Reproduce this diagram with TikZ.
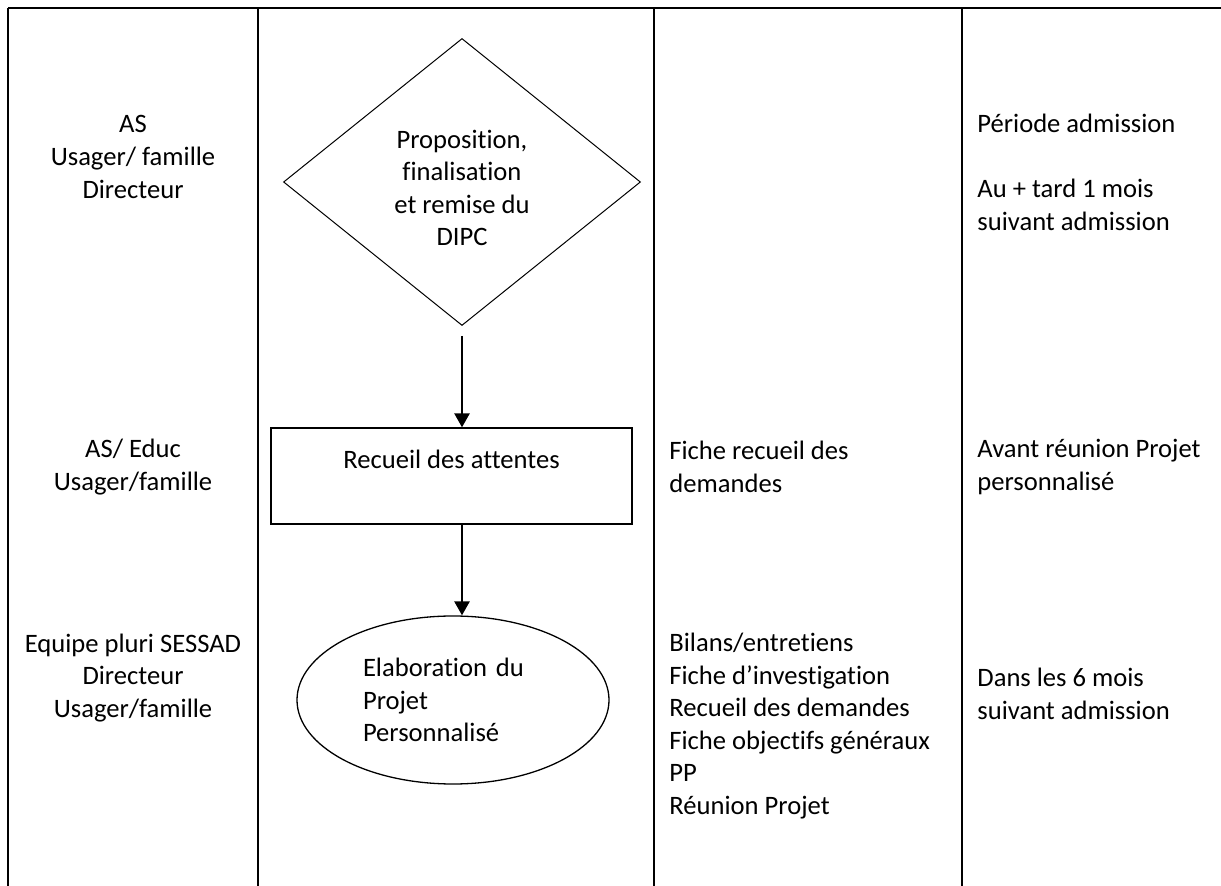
\documentclass[tikz,border=0pt]{standalone}
\usepackage{fontspec}
\setmainfont{Carlito}[Ligatures=NoCommon]
\usepackage{tikz}
\usetikzlibrary{shapes.geometric,arrows.meta}

\begin{document}
\begin{tikzpicture}[x=0.5pt,y=-0.5pt,
  every node/.style={font=\fontsize{13.3}{16.3}\selectfont},
  grid/.style={black, line width=1pt},
  who/.style={align=center},
  doc/.style={align=left, anchor=west, inner xsep=0pt},
  arr/.style={black, line width=1.3pt, -{Triangle[length=7pt,width=7.5pt]}}]
\useasboundingbox (0,0) rectangle (1221,886);
% table lines
\draw[grid] (8,8) -- (1221,8);
\draw[grid] (8,8) -- (8,886);
\draw[grid] (258,8) -- (258,886);
\draw[grid] (654,8) -- (654,886);
\draw[grid] (962,8) -- (962,886);
% who
\node[who] (as1) at (133,157) {AS\\Usager/ famille\\Directeur};
\node[who] (as2) at (133,467) {AS/ Educ\\Usager/famille};
\node[who] (equipe) at (133,678) {Equipe pluri SESSAD\\Directeur\\Usager/famille};
% steps
\node[draw, line width=0.5pt, shape=diamond, inner sep=0pt,
  minimum width=178.5pt, minimum height=143.5pt] (dipc) at (462,182) {};
\node[align=center] (dipctext) at (462,188) {Proposition,\\finalisation\\et remise du\\DIPC};
\node[draw, line width=0.65pt, align=center, minimum width=180.5pt,
  minimum height=48pt] (attentes) at (451.5,476) {Recueil des attentes\\\mbox{}};
\node[draw, line width=0.65pt, shape=ellipse, inner sep=0pt, align=left,
  text width=90pt, minimum width=156pt, minimum height=84pt] (projet) at (453,700)
  {Elaboration du\\Projet\\Personnalisé};
\draw[arr, shorten <=5pt] (dipc.south) -- (dipc.south |- attentes.north);
\draw[arr] (dipc.south |- attentes.south) -- (dipc.south |- projet.north);
% documents
\node[doc] (fiche) at (669,467) {Fiche recueil des\\demandes};
\node[doc] (bilans) at (669,726) {Bilans/entretiens\\Fiche d’investigation\\Recueil des demandes\\Fiche objectifs généraux\\PP\\Réunion Projet};
% when
\node[doc] (periode) at (977,172) {Période admission\\[16.3pt]Au + tard 1 mois\\suivant admission};
\node[doc] (avant) at (977,467) {Avant réunion Projet\\personnalisé};
\node[doc] (dans) at (977,694) {Dans les 6 mois\\suivant admission};
\end{tikzpicture}
\end{document}
